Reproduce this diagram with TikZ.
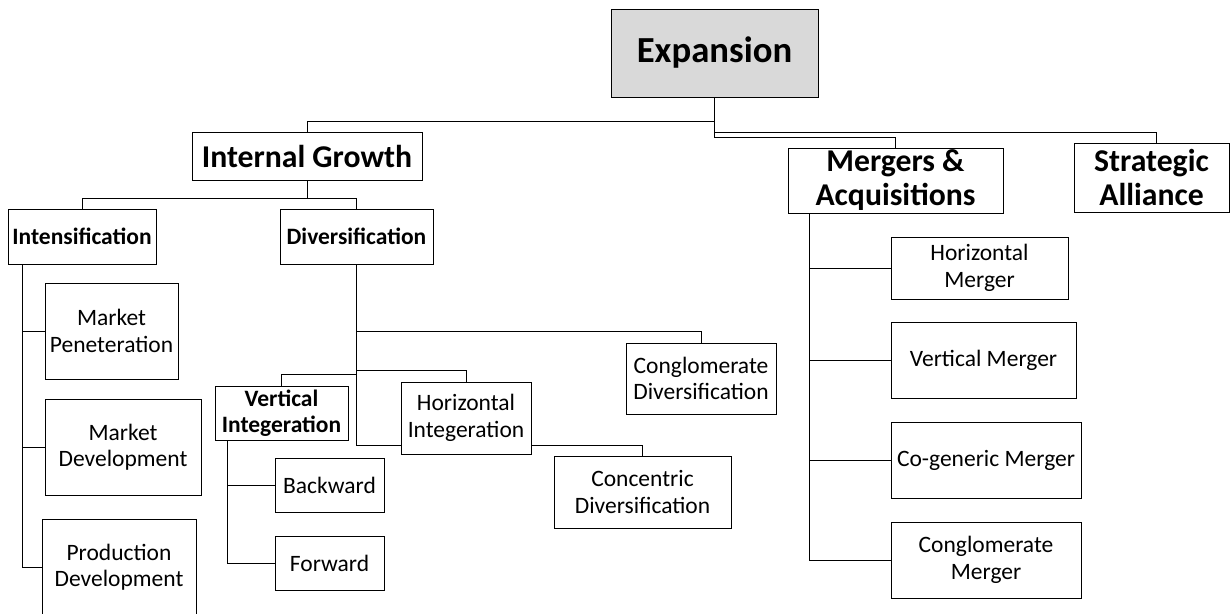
\documentclass[tikz,border=0pt]{standalone}
\usepackage{fontspec}
\setmainfont{Carlito}

\newcommand{\letraraiz}{\fontsize{36.7}{40}\selectfont\bfseries}
\newcommand{\letragrande}{\fontsize{31.7}{34}\selectfont\bfseries}
\newcommand{\letrachica}{\fontsize{23.5}{26.5}\selectfont}

\tikzset{
  caja/.style={draw, line width=1pt, inner sep=0pt, align=center, font=\letrachica},
  linea/.style={line width=1pt}
}

\begin{document}
\begin{tikzpicture}[x=1pt,y=-1pt]
        \useasboundingbox (0,0) rectangle (1230,613);

        % Raiz
        \node[caja, fill=black!15, font=\letraraiz, minimum width=207pt, minimum height=88pt] (exp) at (714.5,53) {Expansion};

        % Primer nivel
        \node[caja, font=\letragrande, minimum width=230pt, minimum height=48pt] (ig) at (307,156) {Internal Growth};
        \node[caja, font=\letragrande, minimum width=215pt, minimum height=65pt] (ma) at (895.5,180.5) {Mergers \&\\Acquisitions};
        \node[caja, font=\letragrande, minimum width=155pt, minimum height=69pt] (sa) at (1151.5,177.5) {Strategic\\Alliance};

        \draw[linea] (exp.south) -- ++(0,24) -| (ig.north);
        \draw[linea] (exp.south) -- ++(0,35) -| ([xshift=4.5pt]sa.north);
        \draw[linea] (exp.south) -- ++(0,40) -| (ma.north);

        % Crecimiento interno
        \node[caja, font=\letrachica\bfseries, minimum width=148pt, minimum height=55pt] (int) at (82,236.5) {Intensification};
        \node[caja, font=\letrachica\bfseries, minimum width=153pt, minimum height=55pt] (div) at (356.5,236.5) {Diversification};
        \draw[linea] (ig.south) -- ++(0,18) -| (int.north);
        \draw[linea] (ig.south) -- ++(0,18) -| (div.north);

        % Intensificacion
        \node[caja, minimum width=133pt, minimum height=96pt] (mp) at (111.5,331) {Market\\Peneteration};
        \node[caja, minimum width=156pt, minimum height=96pt] (md) at (123,447) {Market\\Development};
        \node[caja, minimum width=154pt, minimum height=96pt] (pd) at (119,567) {Production\\Development};
        \coordinate (tint) at ([xshift=15pt]int.south west);
        \draw[linea] (tint) |- (mp.west);
        \draw[linea] (tint) |- (md.west);
        \draw[linea] (tint) |- (pd.west);

        % Diversificacion
        \node[caja, minimum width=150pt, minimum height=71pt] (cd) at (701,378.5) {Conglomerate\\Diversification};
        \node[caja, minimum width=130pt, minimum height=72pt] (hi) at (466,418) {Horizontal\\Integeration};
        \node[caja, font=\letrachica\bfseries, minimum width=133pt, minimum height=54pt] (vi) at (281.5,413) {Vertical\\Integeration};
        \node[caja, minimum width=177pt, minimum height=72pt] (cc) at (642.5,492) {Concentric\\Diversification};
        \draw[linea] (div.south) -- ++(0,67) -| (cd.north);
        \draw[linea] (div.south) -- ++(0,106) -| (hi.north);
        \draw[linea] (div.south) -- ++(0,110) -| (vi.north);
        \draw[linea] (div.south) |- ([yshift=-27pt]hi.west);
        \draw[linea] ([yshift=-27pt]hi.east) -| (cc.north);

        % Integracion vertical
        \node[caja, minimum width=109pt, minimum height=54pt] (bw) at (329.5,485) {Backward};
        \node[caja, minimum width=109pt, minimum height=54pt] (fw) at (329.5,563) {Forward};
        \coordinate (tvi) at ([xshift=13pt]vi.south west);
        \draw[linea] (tvi) |- (bw.west);
        \draw[linea] (tvi) |- (fw.west);

        % Fusiones
        \node[caja, minimum width=177pt, minimum height=62pt] (hm) at (979.5,268) {Horizontal\\Merger};
        \node[caja, minimum width=185pt, minimum height=76pt] (vm) at (983.5,360) {Vertical Merger};
        \node[caja, minimum width=190pt, minimum height=76pt] (cgm) at (986,460) {Co-generic Merger};
        \node[caja, minimum width=190pt, minimum height=76pt] (cm) at (986,560) {Conglomerate\\Merger};
        \coordinate (tma) at ([xshift=22pt]ma.south west);
        \draw[linea] (tma) |- (hm.west);
        \draw[linea] (tma) |- (vm.west);
        \draw[linea] (tma) |- (cgm.west);
        \draw[linea] (tma) |- (cm.west);
    \end{tikzpicture}
\end{document}
